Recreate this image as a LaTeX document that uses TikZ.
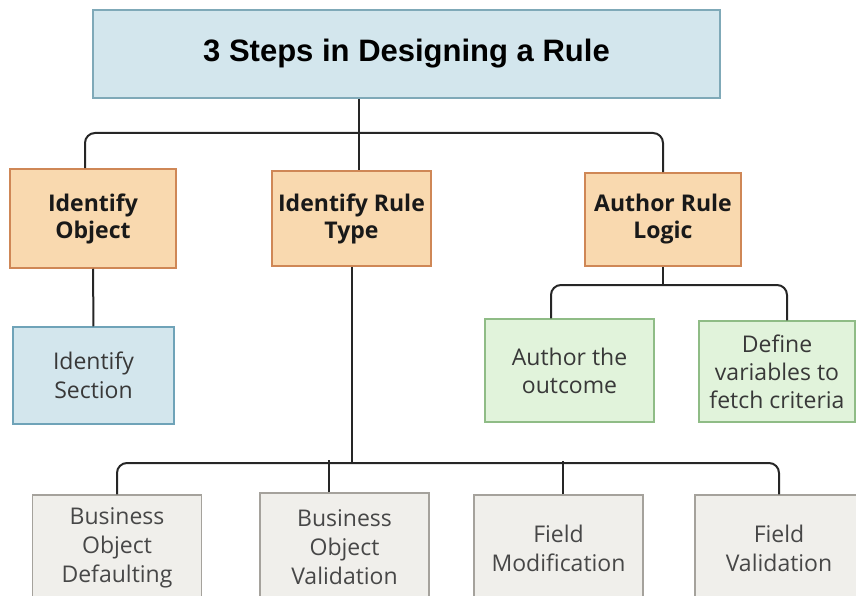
\documentclass[tikz,border=0pt]{standalone}
\usepackage{fontspec}
\setmainfont{Open Sans}
\newfontfamily\titlefont{Liberation Sans}
\usepackage{xcolor}

\definecolor{titlefill}{HTML}{D3E6ED}
\definecolor{titleline}{HTML}{7FA9B8}
\definecolor{stepfill}{HTML}{F9D9AF}
\definecolor{stepline}{HTML}{CF8756}
\definecolor{secline}{HTML}{6FA3B8}
\definecolor{logicfill}{HTML}{E1F3DB}
\definecolor{logicline}{HTML}{8FBC86}
\definecolor{typefill}{HTML}{F0EFEB}
\definecolor{typeline}{HTML}{A5A29C}
\definecolor{wire}{HTML}{262626}

\begin{document}
\begin{tikzpicture}[x=1pt, y=-1pt,
    box/.style={draw, line width=1.5pt, inner sep=0pt, align=center},
    titlebox/.style={box, fill=titlefill, draw=titleline, font=\titlefont\bfseries\fontsize{31}{36}\selectfont},
    stepbox/.style={box, fill=stepfill, draw=stepline, text=black!90, font=\bfseries\fontsize{23}{27}\selectfont},
    secbox/.style={box, fill=titlefill, draw=secline, text=black!78, font=\fontsize{23}{29}\selectfont},
    logicbox/.style={box, fill=logicfill, draw=logicline, text=black!78, font=\fontsize{23}{28}\selectfont},
    typebox/.style={box, fill=typefill, draw=typeline, text=black!72, minimum width=169pt, minimum height=106pt, font=\fontsize{23}{29}\selectfont},
    link/.style={draw=wire, line width=2pt}
]
    \useasboundingbox (0,0) rectangle (856,596);

    % Title
    \node[titlebox, minimum width=627pt, minimum height=88pt] (title) at (406.5,54) {3 Steps in Designing a Rule};

    % Steps
    \node[stepbox, minimum width=166pt, minimum height=99pt] (idobj) at (93,218.5) {Identify\\Object};
    \node[stepbox, minimum width=159pt, minimum height=95pt] (idtype) at (351.5,218.5) {Identify Rule\\Type};
    \node[stepbox, minimum width=156pt, minimum height=93pt] (author) at (663,219.5) {Author Rule\\Logic};

    % Second level
    \node[secbox, minimum width=161pt, minimum height=97pt] (idsec) at (93.5,375.5) {Identify\\Section};
    \node[logicbox, minimum width=169pt, minimum height=103pt] (outcome) at (569.5,370.5) {Author the\\outcome};
    \node[logicbox, minimum width=156pt, minimum height=101pt] (fetch) at (777,371.5) {Define\\variables to\\fetch criteria};

    % Rule types
    \node[typebox] (bodef) at (117,548) {Business\\Object\\Defaulting};
    \node[typebox, minimum height=108pt] (boval) at (344.5,547) {Business\\Object\\Validation};
    \node[typebox] (fmod) at (558.5,548) {Field\\Modification};
    \node[typebox, minimum width=168pt] (fval) at (779,548) {Field\\Validation};

    % Connections
    \coordinate (topbus) at (359,133);
    \draw[link] (title.south -| topbus) -- (topbus) -- (topbus |- idtype.north);
    \draw[link, rounded corners=10pt] ([xshift=-8pt]idobj.north) |- (topbus) -| (author.north);
    \draw[link] (idobj) -- (idsec);

    \coordinate (logicbus) at (663,285);
    \draw[link] (author.south) -- (logicbus);
    \draw[link, rounded corners=10pt] ([xshift=-18.5pt]outcome.north) |- (logicbus) -| ([xshift=10pt]fetch.north);

    \coordinate (typebus) at (352,463);
    \draw[link] (idtype.south -| typebus) -- (typebus);
    \draw[link, rounded corners=10pt] (bodef.north) |- (typebus) -| (fval.north);
    \draw[link] ([xshift=-15.5pt]boval.north) -- ++(0,-32);
    \draw[link] ([xshift=4.5pt]fmod.north) -- ++(0,-33);
\end{tikzpicture}
\end{document}
